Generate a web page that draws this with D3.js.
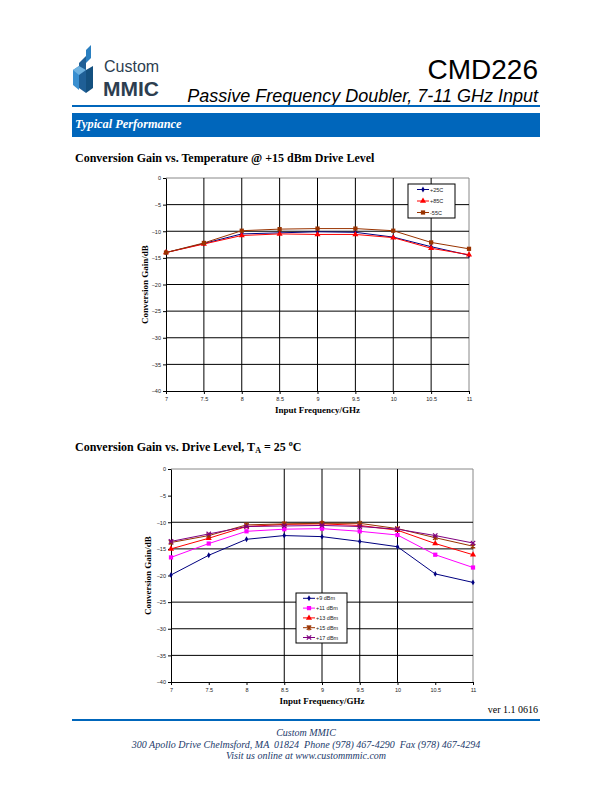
<!DOCTYPE html>
<html><head><meta charset="utf-8">
<script src="https://cdn.jsdelivr.net/npm/d3@7"></script>
<style>body{margin:0;background:#fff}svg{display:block}</style>
</head><body>
<svg id="page" width="612" height="792"></svg>
<script>
// ---------- data ----------
const freqs = [7, 7.5, 8, 8.5, 9, 9.5, 10, 10.5, 11];
const xTicks = [7, 7.5, 8, 8.5, 9, 9.5, 10, 10.5, 11];
const yTicks = [0, -5, -10, -15, -20, -25, -30, -35, -40];

const tempNames = ["+25C", "+85C", "-55C"];
const gain25C = [-14.0, -12.3, -10.5, -10.3, -10.1, -10.2, -11.1, -12.9, -14.5];
const gain85C = [-14.0, -12.4, -10.8, -10.5, -10.6, -10.6, -11.2, -13.2, -14.4];
const gainM55C = [-14.0, -12.2, -9.9, -9.6, -9.5, -9.5, -9.9, -12.1, -13.3];

const driveNames = ["+9 dBm", "+11 dBm", "+13 dBm", "+15 dBm", "+17 dBm"];
const gain9 = [-19.9, -16.2, -13.2, -12.5, -12.7, -13.6, -14.6, -19.7, -21.3];
const gain11 = [-16.6, -14.0, -11.7, -11.3, -11.2, -11.7, -12.4, -16.1, -18.5];
const gain13 = [-15.0, -13.0, -10.8, -10.4, -10.3, -10.6, -11.5, -14.0, -16.1];
const gain15 = [-13.8, -12.5, -10.5, -10.3, -10.2, -10.2, -11.2, -12.9, -14.5];
const gain17 = [-13.6, -12.2, -10.8, -10.7, -10.6, -10.8, -11.3, -12.5, -13.9];

// ---------- page ----------
const svg = d3.select("#page");
const SERIF = "'Liberation Serif','Times New Roman',serif";
const SANS = "'Liberation Sans',Arial,sans-serif";
const BLUE = "#0066bb";

// logo
const logo = svg.append("g");
logo.append("polygon").attr("points", "79,63 86,56 86,93 79,88").attr("fill", "#1f5f96");
logo.append("polygon").attr("points", "86,50 91,45 91,58 86,63").attr("fill", "#2a7fc0");
logo.append("polygon").attr("points", "73,70 79,66 79,90 73,85").attr("fill", "#3a8fd0");
logo.append("polygon").attr("points", "86,70 93,66 93,88 86,93").attr("fill", "#14507f");
logo.append("polygon").attr("points", "73,70 79,66 86,70 79,75").attr("fill", "#6fb2e0");
logo.append("text").attr("x", 104).attr("y", 72).attr("font-family", SANS).attr("font-size", 16)
  .attr("fill", "#2d3e50").text("Custom");
logo.append("text").attr("x", 103).attr("y", 95.5).attr("font-family", SANS).attr("font-size", 21)
  .attr("font-weight", "bold").attr("fill", "#2d3e50").text("MMIC");

svg.append("text").attr("x", 538).attr("y", 79).attr("text-anchor", "end").attr("font-family", SANS)
  .attr("font-size", 28).text("CMD226");
svg.append("text").attr("x", 538).attr("y", 102).attr("text-anchor", "end").attr("font-family", SANS)
  .attr("font-size", 18).attr("font-style", "italic").text("Passive Frequency Doubler, 7-11 GHz Input");
svg.append("rect").attr("x", 72).attr("y", 105).attr("width", 468).attr("height", 2).attr("fill", BLUE);

svg.append("rect").attr("x", 72).attr("y", 113).attr("width", 468).attr("height", 24).attr("fill", BLUE);
svg.append("text").attr("x", 75).attr("y", 128).attr("font-family", SERIF).attr("font-size", 12.3)
  .attr("font-style", "italic").attr("font-weight", "bold").attr("fill", "#fff").text("Typical Performance");

svg.append("text").attr("x", 75).attr("y", 162).attr("font-family", SERIF).attr("font-size", 12)
  .attr("font-weight", "bold").text("Conversion Gain vs. Temperature @ +15 dBm Drive Level");
const t2 = svg.append("text").attr("x", 75).attr("y", 451).attr("font-family", SERIF).attr("font-size", 12)
  .attr("font-weight", "bold");
t2.append("tspan").text("Conversion Gain vs. Drive Level, T");
t2.append("tspan").attr("font-size", 8).attr("dy", 2).text("A");
t2.append("tspan").attr("dy", -2).text(" = 25 ");
t2.append("tspan").attr("font-size", 8).attr("dy", -5).text("o");
t2.append("tspan").attr("dy", 5).text("C");

// footer
svg.append("text").attr("x", 538).attr("y", 713).attr("text-anchor", "end").attr("font-family", SERIF)
  .attr("font-size", 10).text("ver 1.1 0616");
svg.append("rect").attr("x", 72).attr("y", 719).attr("width", 468).attr("height", 2).attr("fill", BLUE);
const foot = ["Custom MMIC", "300 Apollo Drive Chelmsford, MA  01824  Phone (978) 467-4290  Fax (978) 467-4294", "Visit us online at www.custommmic.com"];
foot.forEach((t, i) => svg.append("text").attr("x", 306).attr("y", 736 + i * 11.5).attr("text-anchor", "middle")
  .attr("font-family", SERIF).attr("font-size", 10).attr("font-style", "italic").attr("fill", "#1b3a6b")
  .attr("xml:space", "preserve").text(t));

// ---------- chart builder ----------
function marker(g, type, color, x, y) {
  if (type === "x" || type === "star") {
    const s = 2.2;
    g.append("path").attr("d", `M${x - s},${y - s}L${x + s},${y + s}M${x - s},${y + s}L${x + s},${y - s}` +
      (type === "star" ? `M${x},${y - s - 0.5}L${x},${y + s + 0.5}` : ""))
      .attr("stroke", color).attr("stroke-width", 1.2).attr("fill", "none");
  } else {
    const sym = { diamond: d3.symbolDiamond, square: d3.symbolSquare, triangle: d3.symbolTriangle }[type];
    const size = { diamond: 10, square: 18, triangle: 16 }[type];
    g.append("path").attr("d", d3.symbol().type(sym).size(size)()).attr("transform", `translate(${x},${y})`)
      .attr("fill", color);
  }
}

function chart(opt) {
  const { left, right, top, bottom } = opt;
  const x = d3.scaleLinear().domain([7, 11]).range([left, right]);
  const y = d3.scaleLinear().domain([-40, 0]).range([bottom, top]);
  const g = svg.append("g");
  // frame top/right gray
  g.append("line").attr("x1", left).attr("x2", right).attr("y1", top).attr("y2", top).attr("stroke", "#888").attr("stroke-width", 1);
  g.append("line").attr("x1", right).attr("x2", right).attr("y1", top).attr("y2", bottom).attr("stroke", "#888").attr("stroke-width", 1);
  // grid
  opt.vGrid.forEach(v => g.append("line").attr("x1", x(v)).attr("x2", x(v)).attr("y1", top).attr("y2", bottom)
    .attr("stroke", "#000").attr("stroke-width", 1));
  opt.hGrid.forEach(v => g.append("line").attr("x1", left).attr("x2", right).attr("y1", y(v)).attr("y2", y(v))
    .attr("stroke", "#000").attr("stroke-width", 1));
  // axes
  const ya = g.append("g").attr("transform", `translate(${left},0)`)
    .call(d3.axisLeft(y).tickValues(yTicks).tickSize(3).tickSizeOuter(0).tickFormat(d3.format("d")));
  const xa = g.append("g").attr("transform", `translate(0,${bottom})`)
    .call(d3.axisBottom(x).tickValues(xTicks).tickSize(3).tickSizeOuter(0).tickFormat(d => String(d)));
  [ya, xa].forEach(a => {
    a.selectAll("path,line").attr("stroke", "#000");
    a.selectAll("text").attr("font-family", SANS).attr("font-size", 5.5).attr("fill", "#222");
  });
  ya.selectAll("text").attr("x", -5);
  xa.selectAll("text").attr("y", 6);
  // axis titles
  g.append("text").attr("transform", `translate(${opt.yTitleX},${(top + bottom) / 2}) rotate(-90)`)
    .attr("text-anchor", "middle").attr("font-family", SERIF).attr("font-weight", "bold").attr("font-size", 9)
    .text("Conversion Gain/dB");
  g.append("text").attr("x", (left + right) / 2).attr("y", opt.xTitleY).attr("text-anchor", "middle")
    .attr("font-family", SERIF).attr("font-weight", "bold").attr("font-size", 9).text("Input Frequency/GHz");
  // series
  const line = d3.line().x((d, i) => x(freqs[i])).y(d => y(d));
  opt.series.forEach(s => {
    g.append("path").attr("d", line(s.values)).attr("fill", "none").attr("stroke", s.color).attr("stroke-width", 1);
    s.values.forEach((v, i) => marker(g, s.marker, s.color, x(freqs[i]), y(v)));
  });
  // legend
  const L = opt.legend;
  g.append("rect").attr("x", L.x).attr("y", L.y).attr("width", L.w).attr("height", L.h)
    .attr("fill", "#fff").attr("stroke", "#000").attr("stroke-width", 1);
  opt.series.forEach((s, i) => {
    const yy = L.y + L.first + i * L.step;
    g.append("line").attr("x1", L.x + L.lx1).attr("x2", L.x + L.lx2).attr("y1", yy).attr("y2", yy)
      .attr("stroke", s.color).attr("stroke-width", 1);
    marker(g, s.marker, s.color, L.x + (L.lx1 + L.lx2) / 2, yy);
    g.append("text").attr("x", L.x + L.lx2 + 1).attr("y", yy + 2).attr("font-family", SANS).attr("font-size", 5.5)
      .attr("fill", "#222").text(s.name);
  });
}

chart({
  left: 166, right: 469, top: 178, bottom: 391,
  vGrid: [7.5, 8, 8.5, 9, 9.5, 10, 10.5], hGrid: [-5, -10, -15, -20, -25, -30, -35],
  yTitleX: 148, xTitleY: 413,
  series: [
    { name: tempNames[0], values: gain25C, color: "#000080", marker: "diamond" },
    { name: tempNames[1], values: gain85C, color: "#ff0000", marker: "triangle" },
    { name: tempNames[2], values: gainM55C, color: "#993300", marker: "square" }
  ],
  legend: { x: 408, y: 184, w: 47, h: 34, first: 5.5, step: 11.5, lx1: 9, lx2: 21 }
});

chart({
  left: 171, right: 473, top: 469, bottom: 682,
  vGrid: [8.5, 9, 9.5, 10], hGrid: [-10, -15, -25, -30, -35],
  yTitleX: 151, xTitleY: 704,
  series: [
    { name: driveNames[0], values: gain9, color: "#000080", marker: "diamond" },
    { name: driveNames[1], values: gain11, color: "#ff00ff", marker: "square" },
    { name: driveNames[2], values: gain13, color: "#ff0000", marker: "triangle" },
    { name: driveNames[3], values: gain15, color: "#993300", marker: "star" },
    { name: driveNames[4], values: gain17, color: "#800080", marker: "x" }
  ],
  legend: { x: 296, y: 593, w: 51, h: 50, first: 5.3, step: 9.8, lx1: 7, lx2: 19 }
});
</script>
</body></html>
